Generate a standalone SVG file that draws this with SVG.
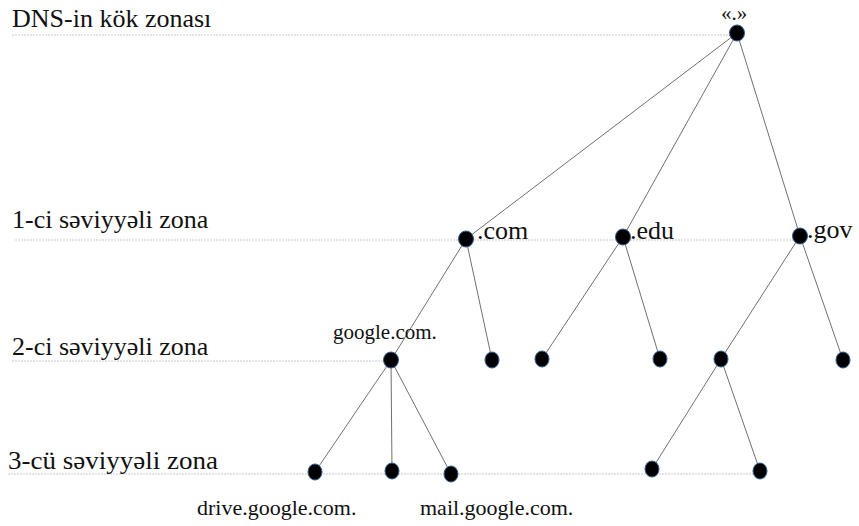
<svg xmlns="http://www.w3.org/2000/svg" width="859" height="526" viewBox="0 0 859 526">
<style>
.lvl{stroke:#c8c8c8;stroke-width:1;stroke-dasharray:2 1;fill:none}
.edge{stroke:#606060;stroke-width:0.9;fill:none}
.node{fill:#000;stroke:#2f5f8f;stroke-width:1}
text{font-family:"Liberation Serif","Times New Roman",serif;fill:#111}
.lab{font-size:26px}
.nl{font-size:22px}
.tl{font-size:26px}
</style>
<rect width="859" height="526" fill="#fff"/>
<g id="levels">
<line class="lvl" x1="12" y1="35" x2="730" y2="35"/>
<line class="lvl" x1="15" y1="240" x2="800" y2="240"/>
<line class="lvl" x1="12" y1="361" x2="384" y2="361"/>
<line class="lvl" x1="8" y1="474" x2="760" y2="474"/>
<text class="lab" x="12" y="27">DNS-in kök zonası</text>
<text class="lab" x="12" y="228">1-ci səviyyəli zona</text>
<text class="lab" x="12" y="355">2-ci səviyyəli zona</text>
<text class="lab" x="8" y="469" textLength="210" lengthAdjust="spacingAndGlyphs">3-cü səviyyəli zona</text>
</g>
<g id="connectors">
<line class="edge" x1="737" y1="33" x2="466" y2="239"/>
<line class="edge" x1="737" y1="33" x2="623" y2="237"/>
<line class="edge" x1="737" y1="33" x2="800" y2="236"/>
<line class="edge" x1="466" y1="239" x2="391" y2="360"/>
<line class="edge" x1="466" y1="239" x2="492" y2="360"/>
<line class="edge" x1="623" y1="237" x2="542" y2="359"/>
<line class="edge" x1="623" y1="237" x2="660" y2="359"/>
<line class="edge" x1="800" y1="236" x2="721" y2="359"/>
<line class="edge" x1="800" y1="236" x2="843" y2="360"/>
<line class="edge" x1="391" y1="360" x2="315" y2="472"/>
<line class="edge" x1="391" y1="360" x2="392" y2="471"/>
<line class="edge" x1="391" y1="360" x2="451" y2="474"/>
<line class="edge" x1="721" y1="359" x2="652" y2="469"/>
<line class="edge" x1="721" y1="359" x2="760" y2="471"/>
</g>
<g id="root"><ellipse class="node" cx="737" cy="33" rx="7.5" ry="8"/><text x="721" y="20" font-size="21">«.»</text></g>
<g id="com"><ellipse class="node" cx="466" cy="239" rx="7.5" ry="8"/><text class="tl" x="477" y="239">.com</text></g>
<g id="edu"><ellipse class="node" cx="623" cy="237" rx="7.5" ry="8"/><text class="tl" x="630" y="239">.edu</text></g>
<g id="gov"><ellipse class="node" cx="800" cy="236" rx="7.5" ry="8"/><text class="tl" x="807" y="238">.gov</text></g>
<g id="google"><ellipse class="node" cx="391" cy="360" rx="7.5" ry="8"/><text x="333" y="339" font-size="21">google.com.</text></g>
<g id="com2"><ellipse class="node" cx="492" cy="360" rx="7" ry="8"/></g>
<g id="edu1"><ellipse class="node" cx="542" cy="359" rx="7" ry="8"/></g>
<g id="edu2"><ellipse class="node" cx="660" cy="359" rx="7" ry="8"/></g>
<g id="gov1"><ellipse class="node" cx="721" cy="359" rx="7" ry="8"/></g>
<g id="gov2"><ellipse class="node" cx="843" cy="360" rx="7" ry="8"/></g>
<g id="drive"><ellipse class="node" cx="315" cy="472" rx="7" ry="8"/><text class="nl" x="197" y="515">drive.google.com.</text></g>
<g id="g2"><ellipse class="node" cx="392" cy="471" rx="7" ry="8"/></g>
<g id="mail"><ellipse class="node" cx="451" cy="474" rx="7" ry="8"/><text class="nl" x="420" y="515">mail.google.com.</text></g>
<g id="g31"><ellipse class="node" cx="652" cy="469" rx="7" ry="8"/></g>
<g id="g32"><ellipse class="node" cx="760" cy="471" rx="7" ry="8"/></g>
</svg>
